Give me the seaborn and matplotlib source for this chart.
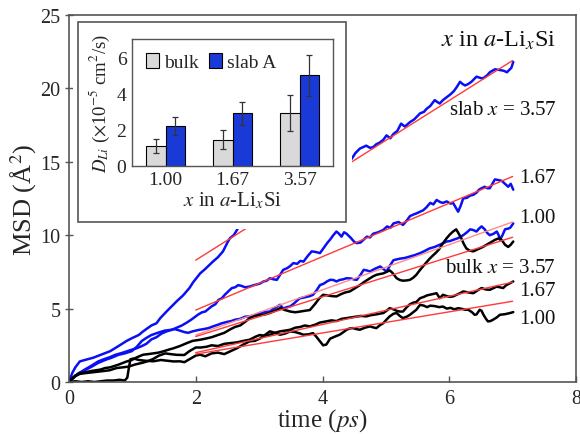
import numpy as np
import pandas as pd
import matplotlib
matplotlib.use("Agg")
import matplotlib.pyplot as plt
import seaborn as sns
from matplotlib.patches import Rectangle

sns.set_theme(style="white")
plt.rcParams['font.family'] = ['Liberation Serif', 'DejaVu Serif']
plt.rcParams['mathtext.fontset'] = 'stix'

# ---------------- main panel data (MSD vs time) ----------------
slab357_t = [0, 0.05, 0.1, 0.17, 0.25, 0.38, 0.5, 0.65, 0.8, 0.91, 1.0, 1.1, 1.17, 1.3, 1.38, 1.44, 1.55,
             1.7, 1.8, 1.9, 1.96, 2.07, 2.15, 2.27, 2.35, 2.43, 2.5, 2.54, 2.6, 2.67,
             2.8, 3.0, 3.3, 3.6, 3.9, 4.2, 4.4,
             4.46, 4.52, 4.59, 4.64, 4.69, 4.75, 4.8, 4.85, 4.9, 4.96, 5.01, 5.07, 5.12, 5.18, 5.24,
             5.3, 5.38, 5.45, 5.54, 5.6, 5.64, 5.7, 5.77, 5.82, 5.85, 5.9, 5.96, 6.02, 6.07, 6.12,
             6.17, 6.21, 6.25, 6.3, 6.35, 6.43, 6.5, 6.54, 6.6, 6.64, 6.72, 6.8, 6.86, 6.91, 6.98, 7.01]
slab357_y = [0, 0.6, 1.0, 1.4, 1.5, 1.65, 1.85, 2.1, 2.5, 2.8, 3.0, 3.2, 3.45, 3.85, 4.0, 4.35, 4.85,
             5.5, 5.9, 6.4, 6.8, 7.4, 7.7, 8.2, 8.5, 8.9, 9.5, 9.8, 10.0, 10.5,
             11.0, 11.6, 12.3, 13.1, 13.8, 14.5, 15.0,
             15.2, 15.6, 15.9, 16.0, 16.1, 15.95, 16.0, 16.2, 16.3, 16.5, 16.8, 16.6, 16.9, 17.1, 17.6,
             17.4, 17.7, 17.9, 18.3, 18.4, 18.6, 18.8, 19.2, 19.05, 18.97, 19.2, 19.4, 19.6, 19.8, 20.1,
             20.45, 20.3, 20.2, 20.3, 20.45, 20.8, 20.7, 20.7, 20.9, 21.1, 21.3, 21.25, 21.2, 21.1, 21.4, 21.8]

slab167_t = [0, 0.05, 0.1, 0.18, 0.25, 0.35, 0.46, 0.55, 0.65, 0.73, 0.85, 0.99, 1.07, 1.15, 1.22, 1.3,
             1.38, 1.46, 1.54, 1.62, 1.7, 1.78, 1.86, 1.93, 2.04, 2.1, 2.15, 2.25, 2.31, 2.36, 2.41, 2.46,
             2.52, 2.57, 2.62, 2.67, 2.72, 2.78, 2.85, 2.92, 3.01, 3.07, 3.12, 3.17, 3.22, 3.28, 3.33,
             3.38, 3.44, 3.49, 3.54, 3.6, 3.65, 3.7, 3.77, 3.83, 3.9, 3.96, 4.03, 4.08, 4.12, 4.17, 4.22,
             4.26, 4.3, 4.34, 4.38, 4.45, 4.5, 4.54, 4.6, 4.65, 4.7, 4.75, 4.8, 4.88, 4.96, 5.02, 5.07,
             5.12, 5.2, 5.27, 5.33, 5.38, 5.43, 5.49, 5.54, 5.59, 5.64, 5.7, 5.75, 5.8, 5.86, 5.9, 5.96,
             6.02, 6.06, 6.1, 6.14, 6.18, 6.22, 6.28, 6.33, 6.38, 6.43, 6.47, 6.51, 6.56, 6.6, 6.64, 6.68,
             6.72, 6.78, 6.83, 6.88, 6.93, 6.97, 7.01]
slab167_y = [0, 0.25, 0.4, 0.65, 0.85, 1.1, 1.4, 1.55, 1.7, 1.85, 2.0, 2.2, 2.3, 2.45, 2.6, 2.9,
             3.05, 3.3, 3.45, 3.55, 3.7, 3.85, 4.05, 4.25, 4.6, 4.75, 4.8, 5.15, 5.3, 5.6, 5.7, 5.95,
             6.2, 6.4, 6.45, 6.6, 6.55, 6.45, 6.5, 6.6, 6.7, 6.85, 6.9, 7.07, 7.0, 6.96, 7.3,
             7.64, 7.75, 7.9, 8.1, 8.05, 8.25, 8.2, 8.6, 8.9, 8.85, 8.78, 9.2, 9.5, 9.7, 10.0, 10.25,
             10.1, 9.9, 10.2, 10.1, 9.8, 9.55, 9.46, 9.5, 9.7, 9.9, 9.85, 10.1, 10.2, 10.36, 10.6, 10.5,
             10.8, 10.9, 10.7, 11.0, 11.3, 11.4, 11.5, 11.6, 11.7, 11.9, 12.2, 12.1, 12.4, 12.25, 12.2, 12.3,
             12.15, 12.2, 11.9, 11.6, 12.0, 12.5, 12.55, 12.7, 12.75, 12.9, 13.1, 13.2, 13.3, 13.2, 13.2, 13.5,
             13.8, 13.75, 13.7, 13.5, 13.3, 13.5, 13.1]

slab100_t = [0, 0.05, 0.15, 0.25, 0.36, 0.46, 0.57, 0.67, 0.78, 0.88, 0.99, 1.07, 1.15, 1.22, 1.3, 1.4,
             1.51, 1.6, 1.67, 1.75, 1.82, 1.88, 1.95, 2.05, 2.12, 2.2, 2.28, 2.35, 2.41, 2.5, 2.56, 2.62,
             2.7, 2.78, 2.85, 2.93, 3.01, 3.08, 3.17, 3.25, 3.33, 3.38, 3.44, 3.49, 3.55, 3.6, 3.64, 3.7,
             3.75, 3.8, 3.85, 3.9, 3.96, 4.02, 4.07, 4.12, 4.17, 4.22, 4.27, 4.33, 4.38, 4.45, 4.5, 4.54,
             4.6, 4.65, 4.7, 4.75, 4.82, 4.91, 4.96, 5.01, 5.06, 5.12, 5.17, 5.22, 5.3, 5.38, 5.46, 5.54,
             5.6, 5.69, 5.77, 5.85, 5.9, 5.96, 6.01, 6.06, 6.14, 6.22, 6.28, 6.33, 6.38, 6.43, 6.47, 6.51,
             6.56, 6.6, 6.64, 6.7, 6.75, 6.78, 6.8, 6.84, 6.88, 6.93, 6.96, 7.01]
slab100_y = [0, 0.2, 0.6, 0.8, 1.05, 1.3, 1.5, 1.65, 1.85, 1.95, 2.1, 2.4, 2.8, 3.0, 3.2, 3.35,
             3.5, 3.55, 3.6, 3.5, 3.4, 3.35, 3.45, 3.55, 3.6, 3.67, 3.8, 3.9, 4.0, 4.1, 4.15, 4.24,
             4.3, 4.45, 4.47, 4.55, 4.7, 4.75, 4.8, 5.05, 5.26, 5.0, 5.1, 5.15, 5.35, 5.55, 5.7, 5.75,
             5.8, 5.85, 5.94, 6.2, 6.6, 6.7, 6.85, 6.96, 6.95, 6.85, 6.95, 7.0, 7.07, 7.05, 6.98, 6.96,
             7.3, 7.64, 7.6, 7.53, 7.7, 7.87, 7.7, 7.53, 7.9, 8.3, 8.35, 8.4, 8.45, 8.55, 8.65, 8.78,
             8.9, 9.1, 9.2, 9.35, 9.45, 9.57, 9.6, 9.68, 9.8, 10.0, 10.2, 10.4, 10.35, 10.25, 10.45, 10.6,
             10.4, 10.15, 10.0, 10.1, 10.25, 10.0, 9.68, 10.0, 10.4, 10.45, 10.5, 10.8]

bulk357_t = [0, 0.05, 0.1, 0.17, 0.25, 0.35, 0.49, 0.57, 0.65, 0.78, 0.91, 0.99, 1.08, 1.17, 1.25, 1.33,
             1.41, 1.49, 1.57, 1.65, 1.75, 1.86, 1.95, 2.07, 2.15, 2.25, 2.35, 2.45, 2.55, 2.62, 2.7, 2.78,
             2.85, 2.93, 3.01, 3.09, 3.17, 3.25, 3.33, 3.41, 3.49, 3.57, 3.65, 3.72, 3.8, 3.88, 3.95, 4.01,
             4.08, 4.15, 4.22, 4.3, 4.36, 4.43, 4.5, 4.59, 4.67, 4.75, 4.8, 4.85, 4.9, 4.96, 5.01, 5.06,
             5.1, 5.17, 5.22, 5.27, 5.33, 5.38, 5.43, 5.48, 5.54, 5.6, 5.65, 5.69, 5.75, 5.8, 5.85, 5.9,
             5.96, 6.01, 6.06, 6.11, 6.15, 6.19, 6.23, 6.27, 6.32, 6.38, 6.43, 6.48, 6.53, 6.59, 6.65, 6.72,
             6.76, 6.8, 6.84, 6.88, 6.93, 6.97, 7.01]
bulk357_y = [0, 0.25, 0.45, 0.6, 0.65, 0.75, 0.84, 0.95, 1.0, 1.18, 1.4, 1.5, 1.7, 1.86, 1.9, 1.95,
             2.0, 2.09, 2.2, 2.3, 2.45, 2.65, 2.8, 2.88, 2.95, 3.05, 3.2, 3.35, 3.6, 3.75, 3.85, 4.1,
             4.35, 4.5, 4.55, 4.6, 4.7, 4.85, 5.03, 4.9, 4.8, 4.75, 4.8, 4.85, 4.9, 5.3, 5.7, 5.94,
             5.9, 5.85, 5.83, 6.0, 6.1, 6.17, 6.35, 6.6, 6.85, 7.07, 7.2, 7.3, 7.35, 7.4, 7.5, 7.6,
             7.45, 7.07, 6.95, 6.9, 6.92, 6.96, 7.1, 7.3, 7.64, 7.95, 8.2, 8.4, 8.65, 8.85, 9.1, 9.45,
             9.8, 10.05, 10.25, 10.4, 10.1, 9.8, 9.4, 9.1, 8.95, 8.9, 9.0, 9.1, 9.2, 9.35, 9.5, 9.68,
             9.75, 9.8, 9.6, 9.35, 9.2, 9.35, 9.57]

bulk167_t = [0, 0.05, 0.1, 0.17, 0.25, 0.35, 0.45, 0.55, 0.64, 0.75, 0.85, 0.94, 1.05, 1.15, 1.23, 1.32,
             1.42, 1.52, 1.6, 1.7, 1.82, 1.9, 2.0, 2.08, 2.17, 2.25, 2.35, 2.45, 2.55, 2.65, 2.75, 2.85,
             2.95, 3.01, 3.09, 3.17, 3.25, 3.33, 3.41, 3.49, 3.57, 3.65, 3.72, 3.8, 3.88, 3.96, 4.06, 4.14,
             4.22, 4.3, 4.38, 4.45, 4.53, 4.61, 4.69, 4.76, 4.84, 4.9, 4.96, 5.01, 5.06, 5.12, 5.17, 5.22,
             5.27, 5.33, 5.38, 5.43, 5.48, 5.54, 5.6, 5.65, 5.69, 5.75, 5.8, 5.85, 5.9, 5.96, 6.01, 6.06,
             6.12, 6.17, 6.22, 6.3, 6.38, 6.45, 6.51, 6.58, 6.64, 6.7, 6.75, 6.8, 6.85, 6.9, 6.96, 7.01]
bulk167_y = [0, 0.2, 0.4, 0.55, 0.6, 0.65, 0.7, 0.75, 0.8, 0.95, 1.0, 1.05, 1.2, 1.3, 1.4, 1.55,
             1.8, 1.95, 1.9, 1.85, 1.84, 2.1, 2.35, 2.35, 2.4, 2.5, 2.45, 2.6, 2.65, 2.7, 2.8, 2.88,
             3.1, 3.2, 3.15, 3.22, 3.35, 3.45, 3.5, 3.56, 3.7, 3.75, 3.85, 3.79, 3.9, 4.05, 4.13, 4.2,
             4.15, 4.3, 4.35, 4.4, 4.45, 4.5, 4.47, 4.55, 4.6, 4.65, 4.7, 4.85, 5.03, 4.95, 4.85, 4.8,
             4.8, 5.1, 5.3, 5.4, 5.45, 5.71, 5.8, 5.9, 5.94, 6.0, 6.05, 5.71, 5.94, 5.85, 5.8, 5.83,
             5.95, 6.05, 6.17, 6.1, 6.05, 6.25, 6.4, 6.3, 6.28, 6.4, 6.5, 6.45, 6.4, 6.6, 6.73, 6.85]

bulk100_t = [0, 0.1, 0.2, 0.3, 0.4, 0.5, 0.6, 0.7, 0.8, 0.88, 0.92, 0.95, 0.97, 1.02, 1.1, 1.2,
             1.33, 1.45, 1.55, 1.65, 1.75, 1.82, 1.9, 2.0, 2.07, 2.15, 2.25, 2.35, 2.45, 2.55, 2.65, 2.75,
             2.85, 2.93, 3.01, 3.09, 3.17, 3.25, 3.33, 3.41, 3.49, 3.57, 3.65, 3.7, 3.78, 3.85, 3.9, 3.96,
             4.01, 4.06, 4.12, 4.2, 4.27, 4.33, 4.38, 4.43, 4.48, 4.54, 4.59, 4.67, 4.75, 4.8, 4.85, 4.9,
             4.96, 5.01, 5.06, 5.12, 5.17, 5.22, 5.27, 5.33, 5.38, 5.43, 5.48, 5.54, 5.6, 5.65, 5.7, 5.77,
             5.84, 5.9, 5.96, 6.02, 6.08, 6.14, 6.2, 6.25, 6.3, 6.36, 6.4, 6.43, 6.48, 6.51, 6.54, 6.58,
             6.61, 6.65, 6.69, 6.75, 6.8, 6.88, 6.96, 7.01]
bulk100_y = [0, 0.05, 0.0, 0.05, 0.0, 0.05, 0.1, 0.1, 0.15, 0.1, 0.3, 1.1, 1.55, 1.6, 1.5, 1.45,
             1.41, 1.5, 1.45, 1.4, 1.41, 1.35, 1.55, 1.8, 1.86, 1.75, 1.95, 2.0, 1.9, 2.1, 2.3, 2.55,
             2.77, 2.8, 2.95, 3.2, 3.45, 3.35, 3.22, 3.3, 3.45, 3.4, 3.3, 3.22, 3.25, 3.33, 3.1, 2.77,
             2.5, 2.55, 2.95, 3.1, 3.22, 3.4, 3.56, 3.65, 3.67, 3.6, 3.56, 3.7, 3.79, 3.72, 3.67, 3.85,
             4.01, 4.25, 4.47, 4.65, 4.7, 4.5, 4.35, 4.45, 4.58, 4.75, 4.92, 5.26, 5.2, 5.1, 5.2, 5.17,
             5.1, 5.14, 5.0, 5.05, 4.95, 5.03, 4.98, 4.92, 4.92, 4.75, 4.58, 4.6, 4.92, 4.85, 4.58, 4.3,
             4.13, 4.15, 4.24, 4.4, 4.58, 4.62, 4.7, 4.76]

# linear fits (t = 2 ... 7 ps)
fit_t = [2, 7]
fit_slab357 = [8.3, 21.9]
fit_slab167 = [4.9, 14.0]
fit_slab100 = [3.2, 10.9]
fit_bulk357 = [3.1, 9.86]
fit_bulk167 = [2.0, 6.8]
fit_bulk100 = [1.9, 5.5]

# ---------------- inset data (diffusion coefficients) ----------------
inset_cats = ["1.00", "1.67", "3.57"]
D_bulk = [1.1, 1.45, 2.9]
D_bulk_err = [0.4, 0.5, 1.0]
D_slab = [2.2, 2.9, 5.0]
D_slab_err = [0.5, 0.65, 1.15]

W, H = 580, 435
fig = plt.figure(figsize=(5.8, 4.35), dpi=100)
ax = fig.add_axes([69 / W, 1 - 383 / H, 507 / W, 367 / H])

BLUE = "#0a10f5"
RED = "#ff3a3a"
curves = [
    (slab357_t, slab357_y, BLUE), (slab167_t, slab167_y, BLUE), (slab100_t, slab100_y, BLUE),
    (bulk357_t, bulk357_y, "black"), (bulk167_t, bulk167_y, "black"), (bulk100_t, bulk100_y, "black"),
]
for tt, yy, c in curves:
    sns.lineplot(x=tt, y=yy, ax=ax, color=c, lw=1.8, sort=False, estimator=None)

for fy, c in [(fit_slab357, RED), (fit_slab167, RED), (fit_slab100, "#ff8a8a"),
              (fit_bulk357, RED), (fit_bulk167, RED), (fit_bulk100, RED)]:
    sns.lineplot(x=fit_t, y=fy, ax=ax, color=c, lw=1.0, sort=False, estimator=None, zorder=3)

ax.set_xlim(0, 8)
ax.set_ylim(0, 25)
ax.set_xticks([0, 2, 4, 6, 8])
ax.set_yticks([0, 5, 10, 15, 20, 25])
ax.tick_params(axis='x', bottom=True, direction='in', length=4, width=1, color='#555',
               labelsize=14.5, pad=5)
ax.tick_params(axis='y', left=True, direction='inout', length=6, width=1, color='#555',
               labelsize=14.5, pad=3)
for s in ax.spines.values():
    s.set_color('#555')
    s.set_linewidth(1.2)
ax.set_xlabel(r"time ($ps$)", fontsize=18, labelpad=-1)
ax.set_ylabel(r"MSD (Å$^2$)", fontsize=19, labelpad=1)

ann = dict(ha='right', va='center', fontsize=15, color='#111')
ax.text(7.68, 23.3, r"$x$ in $a$-Li$_x$Si", ha='right', va='center', fontsize=17.5, color='#111')
ax.text(7.68, 18.55, r"slab $x$ = 3.57", **ann)
ax.text(7.68, 13.9, "1.67", **ann)
ax.text(7.68, 11.2, "1.00", **ann)
ax.text(7.68, 7.8, r"bulk $x$ = 3.57", **ann)
ax.text(7.68, 6.2, "1.67", **ann)
ax.text(7.68, 4.35, "1.00", **ann)

# inset background / frame
fig.patches.append(Rectangle((73 / W, 1 - 230 / H), (352 - 73) / W, (230 - 18) / H,
                             transform=fig.transFigure, facecolor='white', edgecolor='none', zorder=1))
fig.patches.append(Rectangle((78 / W, 1 - 223 / H), (346 - 78) / W, (223 - 23) / H,
                             transform=fig.transFigure, facecolor='white', edgecolor='#555',
                             lw=1.2, zorder=1.1))

axin = fig.add_axes([132 / W, 1 - 166.7 / H, 201 / W, 126.4 / H])
axin.set_zorder(2)
df = pd.DataFrame({
    "x": inset_cats * 2,
    "D": D_bulk + D_slab,
    "type": ["bulk"] * 3 + ["slab A"] * 3,
})
sns.barplot(data=df, x="x", y="D", hue="type", palette=["#d9d9d9", "#1a3ad8"], saturation=1,
            edgecolor="black", linewidth=0.8, width=0.58, errorbar=None, ax=axin)
for cont, errs in zip(axin.containers, [D_bulk_err, D_slab_err]):
    for bar, e in zip(cont, errs):
        xc = bar.get_x() + bar.get_width() / 2
        axin.errorbar(xc, bar.get_height(), yerr=e, color='#333', capsize=2.5, lw=0.9, capthick=0.9)
axin.set_xlim(-0.5, 2.5)
axin.set_ylim(0, 7)
axin.set_yticks([0, 2, 4, 6])
axin.tick_params(axis='both', direction='in', length=3, color='#555', labelsize=14, pad=4)
for s in axin.spines.values():
    s.set_color('#555')
    s.set_linewidth(1.0)
axin.set_xlabel(r"$x$ in $a$-Li$_x$Si", fontsize=15, labelpad=1)
axin.set_ylabel(r"$D_{Li}$ ($\times$10$^{-5}$ cm$^2$/s)", fontsize=13.5, labelpad=3)
leg = axin.legend(loc='upper left', frameon=False, fontsize=14, ncol=2, handlelength=0.7,
                  handleheight=0.8, handletextpad=0.25, columnspacing=0.5, borderaxespad=0.3)
for h in leg.legend_handles:
    h.set_edgecolor('black')
    h.set_linewidth(0.8)

fig.savefig("out.png", dpi=100)
